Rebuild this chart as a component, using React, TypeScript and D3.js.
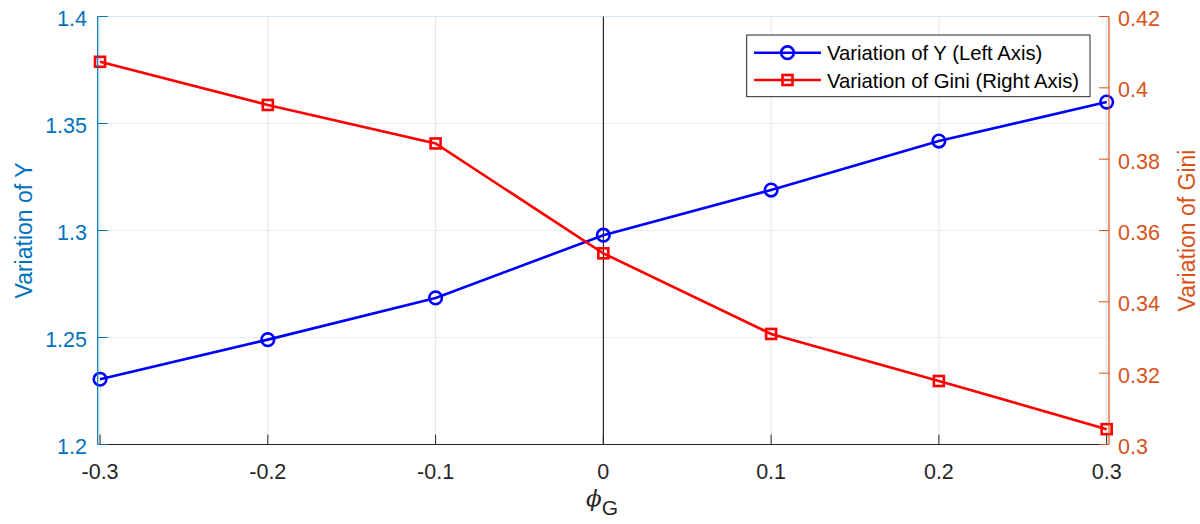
import React from "react";
import * as d3 from "d3";

const phiValues = [-0.3, -0.2, -0.1, 0, 0.1, 0.2, 0.3];
const yValues = [1.2305, 1.249, 1.2685, 1.2978, 1.3189, 1.3418, 1.36];
const giniValues = [0.4073, 0.3952, 0.3844, 0.3536, 0.331, 0.3178, 0.3043];
const xTicks = [-0.3, -0.2, -0.1, 0, 0.1, 0.2, 0.3];
const leftTicks = [1.2, 1.25, 1.3, 1.35, 1.4];
const rightTicks = [0.3, 0.32, 0.34, 0.36, 0.38, 0.4, 0.42];
const legendLabels = ["Variation of Y (Left Axis)", "Variation of Gini (Right Axis)"];

const W = 1200;
const H = 524;
const L = 97.7, R = 1109, T = 16.5, B = 444.5;
const LEFT_C = "#0072BD";
const RIGHT_C = "#D95319";
const FONT = "'Liberation Sans', Arial, Helvetica, sans-serif";

export default function App() {
  const x = d3.scaleLinear().domain([-0.3014, 0.3014]).range([L, R]);
  const yL = d3.scaleLinear().domain([1.2, 1.4]).range([B, T]);
  const yR = d3.scaleLinear().domain([0.3, 0.42]).range([B, T]);
  const lineY = d3.line<number>().x((_, i) => x(phiValues[i])).y((d) => yL(d));
  const lineG = d3.line<number>().x((_, i) => x(phiValues[i])).y((d) => yR(d));
  const fmt = (v: number) => String(+v.toFixed(3));

  return (
    <svg width={W} height={H} style={{ position: "absolute", left: 0, top: 0, background: "#fff" }} fontFamily={FONT}>
      <rect x={0} y={0} width={W} height={H} fill="#fff" />
      {xTicks.map((t) => (
        <line key={"vg" + t} x1={x(t)} x2={x(t)} y1={T} y2={B} stroke="#e4e4e6" strokeWidth={1} />
      ))}
      {leftTicks.map((t) => (
        <line key={"hg" + t} x1={L} x2={R} y1={yL(t)} y2={yL(t)} stroke="#e4eef6" strokeWidth={1.2} />
      ))}
      <line x1={L} x2={R} y1={T} y2={T} stroke="#d5e6f3" strokeWidth={1} />
      <line x1={x(0)} x2={x(0)} y1={T} y2={B} stroke="#000" strokeWidth={1} />
      <path d={lineY(yValues) || ""} fill="none" stroke="#0000ff" strokeWidth={2.6} />
      <path d={lineG(giniValues) || ""} fill="none" stroke="#ff0000" strokeWidth={2.6} />
      {yValues.map((v, i) => (
        <circle key={"c" + i} cx={x(phiValues[i])} cy={yL(v)} r={6.3} fill="none" stroke="#0000ff" strokeWidth={2.6} />
      ))}
      {giniValues.map((v, i) => (
        <rect key={"s" + i} x={x(phiValues[i]) - 5} y={yR(v) - 5} width={10} height={10} fill="none" stroke="#ff0000" strokeWidth={2.6} />
      ))}
      <line x1={L} x2={R} y1={B} y2={B} stroke="#262626" strokeWidth={1.2} />
      {xTicks.map((t) => (
        <g key={"xt" + t}>
          <line x1={x(t)} x2={x(t)} y1={B} y2={B - 10} stroke="#262626" strokeWidth={1} />
          <text x={x(t)} y={479} textAnchor="middle" fontSize={21.5} fill="#262626">{fmt(t)}</text>
        </g>
      ))}
      <line x1={L} x2={L} y1={T} y2={B} stroke={LEFT_C} strokeWidth={1.2} />
      {leftTicks.map((t) => (
        <g key={"lt" + t}>
          <line x1={L} x2={L + 10} y1={yL(t)} y2={yL(t)} stroke={LEFT_C} strokeWidth={1} />
          <text x={87} y={yL(t) + 9.5} textAnchor="end" fontSize={21.5} fill={LEFT_C}>{fmt(t)}</text>
        </g>
      ))}
      <text transform={`translate(31.5,${(T + B) / 2}) rotate(-90)`} textAnchor="middle" fontSize={23} fill={LEFT_C}>Variation of Y</text>
      <line x1={R} x2={R} y1={T} y2={B} stroke={RIGHT_C} strokeWidth={1.2} />
      {rightTicks.map((t) => (
        <g key={"rt" + t}>
          <line x1={R} x2={R - 10} y1={yR(t)} y2={yR(t)} stroke={RIGHT_C} strokeWidth={1} />
          <text x={1118} y={yR(t) + 9.5} textAnchor="start" fontSize={21.5} fill={RIGHT_C}>{fmt(t)}</text>
        </g>
      ))}
      <text transform={`translate(1195,${(T + B) / 2}) rotate(-90)`} textAnchor="middle" fontSize={23} fill={RIGHT_C}>Variation of Gini</text>
      <text x={602} y={506} fontSize={24} fill="#262626" textAnchor="middle">
        <tspan fontStyle="italic" fontFamily="'DejaVu Serif', serif" fontSize={23}>ϕ</tspan>
        <tspan fontSize={21} dy={9}>G</tspan>
      </text>
      <g>
        <rect x={746.7} y={35} width={343.3} height={61.7} fill="#fff" stroke="#262626" strokeWidth={1} />
        {legendLabels.map((lab, i) => {
          const cy = 52.7 + i * 27.3;
          return (
            <g key={lab}>
              <line x1={754} x2={821} y1={cy} y2={cy} stroke={i === 0 ? "#0000ff" : "#ff0000"} strokeWidth={2.6} />
              {i === 0 ? (
                <circle cx={787.5} cy={cy} r={6.3} fill="none" stroke="#0000ff" strokeWidth={2.6} />
              ) : (
                <rect x={782.5} y={cy - 5} width={10} height={10} fill="none" stroke="#ff0000" strokeWidth={2.6} />
              )}
              <text x={827} y={cy + 7.5} fontSize={20.3} fill="#000">{lab}</text>
            </g>
          );
        })}
      </g>
    </svg>
  );
}
